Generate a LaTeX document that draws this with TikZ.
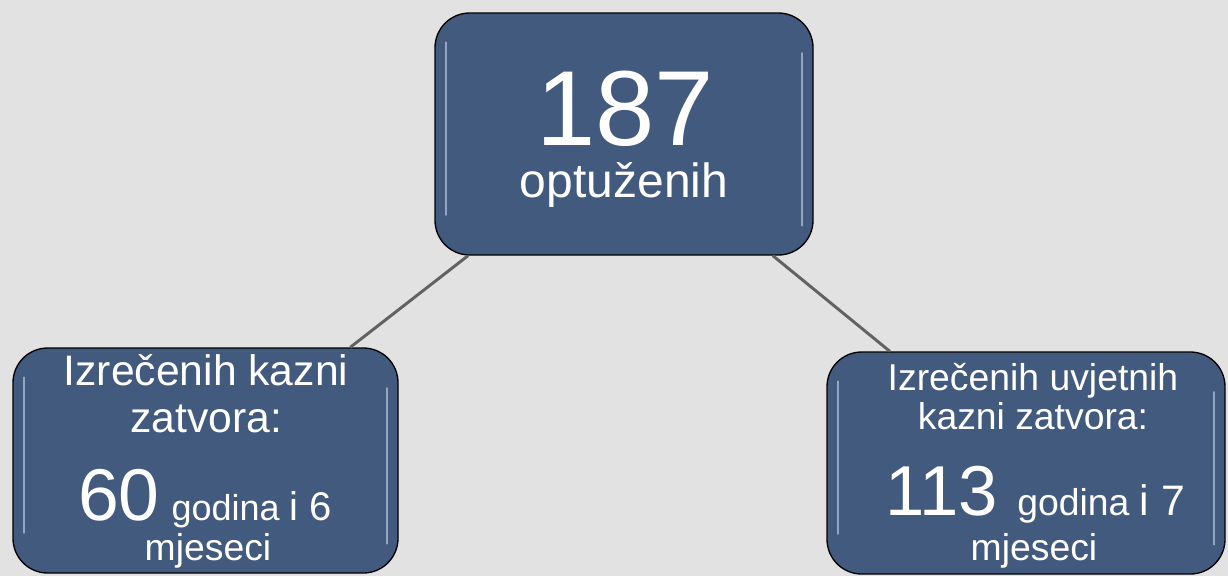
\documentclass[tikz,border=0pt]{standalone}
\usepackage{fontspec}
\setmainfont{Liberation Sans}
\usetikzlibrary{calc}
\usetikzlibrary{positioning}
\definecolor{BgGray}{HTML}{E2E2E2}
\definecolor{BoxBlue}{HTML}{435A7F}
\definecolor{HiBlue}{HTML}{B4C8E4}
\definecolor{LinkGray}{HTML}{626262}
\tikzset{
  box/.style={draw=black, line width=1pt, fill=BoxBlue, rounded corners=26pt, inner sep=0pt,
    path picture={
      \draw[HiBlue, opacity=0.7, line width=1.3pt, line cap=round]
        ([xshift=8pt,yshift=-22pt]path picture bounding box.north west) -- ([xshift=8pt,yshift=30pt]path picture bounding box.south west)
        ([xshift=-8pt,yshift=-30pt]path picture bounding box.north east) -- ([xshift=-8pt,yshift=22pt]path picture bounding box.south east);
    }},
  lbl/.style={text=white, inner sep=0pt, anchor=base},
  link/.style={draw=LinkGray, line width=2.2pt}
}
\begin{document}
\begin{tikzpicture}[x=0.75pt,y=-0.75pt]
  \fill[BgGray] (0,0) rectangle (1228,576);
  \useasboundingbox (0,0) rectangle (1228,576);

  \node[box, minimum width=283.5pt, minimum height=181.5pt] (top) at (624,134) {};
  \node[box, minimum width=288.75pt, minimum height=168.75pt] (left) at (205.5,460.5) {};
  \node[box, minimum width=298.5pt, minimum height=166.5pt] (right) at (1026,463) {};

  \draw[link] (top) -- (left);
  \draw[link] (top) -- (right);

  \node[lbl, text depth=0pt, font=\fontsize{80}{80}\selectfont] (topnum) at (625,145) {187};
  \node[lbl, text height=24pt, font=\fontsize{36}{36}\selectfont] (topcap) at (624,197) {optuženih};

  \node[lbl, font=\fontsize{32}{32}\selectfont] (lefta) at (206,385) {Izrečenih kazni};
  \node[lbl, font=\fontsize{32}{32}\selectfont] (leftb) at (206,432) {zatvora:};
  \node[lbl] (leftc) at (205,520) {\fontsize{55}{55}\selectfont 60\hspace{9pt}\fontsize{27}{27}\selectfont godina \fontsize{30}{30}\selectfont i 6};
  \node[lbl, font=\fontsize{28}{28}\selectfont] (leftd) at (208,560) {mjeseci};

  \node[lbl, font=\fontsize{28}{28}\selectfont] (righta) at (1033,390) {Izrečenih uvjetnih};
  \node[lbl, font=\fontsize{28}{28}\selectfont] (rightb) at (1033,429) {kazni zatvora:};
  \node[lbl] (rightc) at (1035,515) {\fontsize{53}{53}\selectfont 113 \fontsize{28}{28}\selectfont godina \fontsize{32}{32}\selectfont i 7};
  \node[lbl, font=\fontsize{28}{28}\selectfont] (rightd) at (1034,560) {mjeseci};
\end{tikzpicture}
\end{document}
